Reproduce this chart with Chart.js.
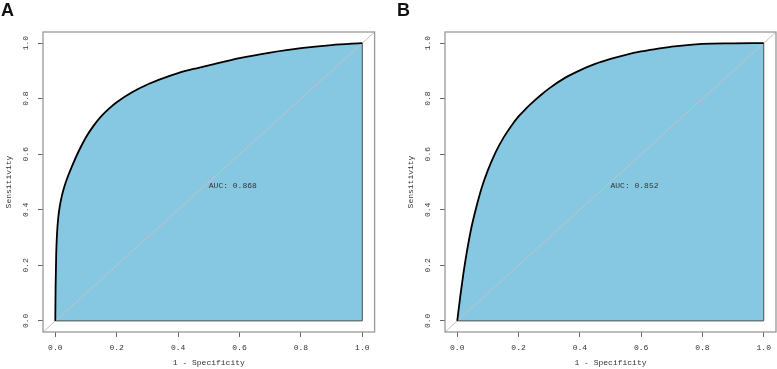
<!DOCTYPE html>
<html>
<head>
<meta charset="utf-8">
<script src="https://cdn.jsdelivr.net/npm/chart.js@4.4.0/dist/chart.umd.min.js"></script>
<style>
    body { margin: 0; background: #fff; }
    #wrap { position: relative; width: 777px; height: 369px; }
    .panel { position: absolute; top: 0; height: 369px; }
    #panelA { left: 0; width: 388px; }
    #panelB { left: 388px; width: 389px; }
    .tag { position: absolute; top: 1px; font: bold 18px "Liberation Sans", Arial, sans-serif; line-height: 18px; color: #111; }
</style>
</head>
<body>
<div id="wrap">
    <div class="panel" id="panelA"><canvas id="rocA"></canvas></div>
    <div class="panel" id="panelB"><canvas id="rocB"></canvas></div>
    <div class="tag" style="left:1px">A</div>
    <div class="tag" style="left:397px">B</div>
</div>
<script>
    // axis setup
    const tickValues = [0, 0.2, 0.4, 0.6, 0.8, 1.0];
    const axisMin = -0.04, axisMax = 1.04;
    const xTitle = '1 - Specificity';
    const yTitle = 'Sensitivity';

    // ROC curve A
    const rocA_fpr = [0, 0.001, 0.003, 0.006, 0.010, 0.015, 0.020, 0.025, 0.030, 0.040, 0.055, 0.075, 0.10, 0.125, 0.15, 0.175, 0.20, 0.25, 0.30, 0.35, 0.40, 0.45, 0.50, 0.60, 0.70, 0.80, 0.90, 1.0];
    const rocA_tpr = [0, 0.12, 0.24, 0.32, 0.375, 0.415, 0.443, 0.466, 0.485, 0.517, 0.558, 0.608, 0.661, 0.703, 0.737, 0.764, 0.787, 0.823, 0.851, 0.873, 0.892, 0.907, 0.92, 0.946, 0.966, 0.982, 0.993, 1.0];

    // ROC curve B
    const rocB_fpr = [0, 0.01, 0.02, 0.03, 0.045, 0.06, 0.08, 0.10, 0.125, 0.15, 0.175, 0.20, 0.225, 0.25, 0.275, 0.30, 0.35, 0.40, 0.45, 0.50, 0.55, 0.60, 0.65, 0.70, 0.75, 0.80, 0.90, 1.0];
    const rocB_tpr = [0, 0.09, 0.17, 0.24, 0.33, 0.40, 0.48, 0.543, 0.607, 0.658, 0.700, 0.736, 0.765, 0.791, 0.815, 0.837, 0.874, 0.902, 0.925, 0.943, 0.958, 0.970, 0.979, 0.987, 0.993, 0.997, 0.999, 1.0];

    const aucLabels = ['AUC: 0.868', 'AUC: 0.852'];

    const monoFont = { family: '"Liberation Mono", "DejaVu Sans Mono", monospace', size: 8 };
    const textColor = '#333';

    // frame box + AUC text
    const framePlugin = {
        id: 'frame',
        afterDatasetsDraw: function (chart) {
            const a = chart.chartArea, ctx = chart.ctx;
            ctx.save();
            ctx.strokeStyle = '#999';
            ctx.lineWidth = 1.3;
            ctx.strokeRect(a.left, a.top, a.right - a.left, a.bottom - a.top);
            const px = chart.scales.x.getPixelForValue(0.5);
            const py = chart.scales.y.getPixelForValue(0.5);
            ctx.fillStyle = textColor;
            ctx.font = monoFont.size + 'px ' + monoFont.family;
            ctx.textAlign = 'left';
            ctx.textBaseline = 'top';
            ctx.fillText(chart.options.aucText, px, py);
            ctx.restore();
        }
    };

    function makeChart(id, fpr, tpr, aucText, padLeft, padRight) {
        const pts = fpr.map((v, i) => ({ x: v, y: tpr[i] }));
        return new Chart(document.getElementById(id), {
            type: 'line',
            data: {
                datasets: [
                    { data: pts, borderColor: '#000', borderWidth: 1.8, pointRadius: 0, fill: false, cubicInterpolationMode: 'monotone' },
                    { data: [{ x: axisMin, y: axisMin }, { x: axisMax, y: axisMax }], borderColor: '#c2c2c2', borderWidth: 1, pointRadius: 0, fill: false },
                    { data: [{ x: 0, y: 0 }, { x: 1, y: 0 }, { x: 1, y: 1 }], borderColor: '#4d4d4d', borderWidth: 1, pointRadius: 0, fill: false },
                    { data: pts, borderColor: 'rgba(0,0,0,0)', borderWidth: 0, backgroundColor: '#86C8E2', pointRadius: 0, fill: 'origin', cubicInterpolationMode: 'monotone' }
                ]
            },
            options: {
                aucText: aucText,
                responsive: true,
                maintainAspectRatio: false,
                animation: false,
                layout: { padding: { left: padLeft, right: padRight, top: 32, bottom: 0 } },
                plugins: { legend: { display: false }, tooltip: { enabled: false } },
                scales: {
                    x: {
                        type: 'linear', min: axisMin, max: axisMax,
                        afterBuildTicks: s => { s.ticks = tickValues.map(v => ({ value: v })); },
                        afterFit: s => { s.height = 37; },
                        grid: { display: true, drawOnChartArea: false, drawTicks: true, tickLength: 5, tickColor: '#666', tickWidth: 1 },
                        border: { display: false },
                        ticks: { font: monoFont, color: textColor, padding: 6, maxRotation: 0, autoSkip: false, callback: v => v.toFixed(1) },
                        title: { display: true, text: xTitle, font: monoFont, color: textColor, padding: { top: 0, bottom: 1 } }
                    },
                    y: {
                        type: 'linear', min: axisMin, max: axisMax,
                        afterBuildTicks: s => { s.ticks = tickValues.map(v => ({ value: v })); },
                        afterFit: s => { s.width = 43; },
                        grid: { display: true, drawOnChartArea: false, drawTicks: true, tickLength: 5, tickColor: '#666', tickWidth: 1 },
                        border: { display: false },
                        ticks: { font: monoFont, color: textColor, padding: 5, minRotation: 90, maxRotation: 90, crossAlign: 'center', autoSkip: false, callback: v => v.toFixed(1) },
                        title: { display: true, text: yTitle, font: monoFont, color: textColor, padding: { top: 4, bottom: 0 } }
                    }
                }
            },
            plugins: [framePlugin]
        });
    }

    makeChart('rocA', rocA_fpr, rocA_tpr, aucLabels[0], 0, 13.4);
    makeChart('rocB', rocB_fpr, rocB_tpr, aucLabels[1], 14, 1);
</script>
</body>
</html>
